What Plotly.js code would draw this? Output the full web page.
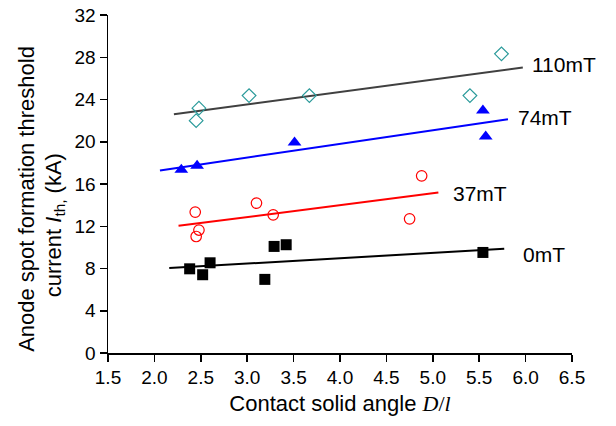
<!DOCTYPE html>
<html>
<head>
<meta charset="utf-8">
<script src="https://cdn.plot.ly/plotly-3.0.1.min.js"></script>
<style>html,body{margin:0;padding:0;background:#fff;}#chart{width:616px;height:426px;}</style>
</head>
<body>
<div id="chart"></div>
<script>
// 0 mT (filled squares)
const x0mT = [2.38, 2.52, 2.60, 3.19, 3.29, 3.42, 5.54];
const y0mT = [7.97, 7.41, 8.54, 6.97, 10.09, 10.25, 9.52];
// 37 mT (open circles)
const x37mT = [2.44, 2.48, 2.45, 3.10, 3.28, 4.75, 4.88];
const y37mT = [13.34, 11.64, 11.03, 14.19, 13.08, 12.70, 16.77];
// 74 mT (filled triangles)
const x74mT = [2.29, 2.46, 3.51, 5.54, 5.57];
const y74mT = [17.34, 17.72, 19.92, 22.95, 20.49];
// 110 mT (open diamonds)
const x110mT = [2.45, 2.48, 3.02, 3.67, 5.40, 5.74];
const y110mT = [22.0, 23.18, 24.37, 24.37, 24.37, 28.32];
// Linear fit lines (start/end)
const fit0X = [2.16, 5.77],  fit0Y = [8.04, 9.87];
const fit37X = [2.26, 5.06], fit37Y = [12.04, 15.19];
const fit74X = [2.06, 5.81], fit74Y = [17.28, 22.14];
const fit110X = [2.21, 5.97], fit110Y = [22.6, 27.02];
const seriesLabels = ["110mT", "74mT", "37mT", "0mT"];
const yTitleLines = ["Anode spot formation threshold", "current <i>I</i><sub>th,</sub> (kA)"];

const font = "Liberation Sans, Arial, sans-serif";
const traces = [
  {x: fit110X, y: fit110Y, mode: "lines", line: {color: "#404040", width: 2}},
  {x: fit74X, y: fit74Y, mode: "lines", line: {color: "#0000ff", width: 2}},
  {x: fit37X, y: fit37Y, mode: "lines", line: {color: "#ff0000", width: 2}},
  {x: fit0X, y: fit0Y, mode: "lines", line: {color: "#000000", width: 2}},
  {x: x110mT, y: y110mT, mode: "markers", marker: {symbol: "diamond-open", size: 10.5, color: "#2a9a9a", line: {width: 1.2}}},
  {x: x74mT, y: y74mT, mode: "markers", marker: {symbol: "triangle-up", size: 12, color: "#0000ff"}},
  {x: x37mT, y: y37mT, mode: "markers", marker: {symbol: "circle-open", size: 10.5, color: "#ff0000", line: {width: 1.2}}},
  {x: x0mT, y: y0mT, mode: "markers", marker: {symbol: "square", size: 11, color: "#000000"}}
];

const labelPos = [[6.05, 27.27], [5.90, 22.29], [5.20, 15.14], [5.95, 9.3]];
const annotations = seriesLabels.map((t, i) => ({
  x: labelPos[i][0], y: labelPos[i][1], xref: "x", yref: "y", text: t,
  showarrow: false, xanchor: "left", yanchor: "middle",
  font: {family: font, size: 21, color: "#000"}
}));
// y-axis title, two rotated lines
const yTitlePos = [[-0.176, 0.457], [-0.114, 0.378]];
yTitleLines.forEach((t, i) => annotations.push({
  x: yTitlePos[i][0], y: yTitlePos[i][1], xref: "paper", yref: "paper", text: t,
  textangle: -90, showarrow: false, xanchor: "center", yanchor: "middle",
  font: {family: font, size: 22, color: "#000"}
}));

const layout = {
  width: 616, height: 426,
  margin: {l: 108, r: 44, t: 15, b: 73, pad: 0},
  paper_bgcolor: "#fff", plot_bgcolor: "#fff",
  showlegend: false,
  font: {family: font, color: "#000"},
  xaxis: {
    range: [1.5, 6.5], dtick: 0.5, tick0: 1.5, tickformat: ".1f",
    showgrid: false, zeroline: false, showline: true, linecolor: "#000", linewidth: 1.5,
    ticks: "outside", ticklen: 7, tickwidth: 1.5, tickcolor: "#000",
    tickfont: {family: font, size: 19, color: "#000"},
    title: {text: 'Contact solid angle <span style="font-family:Liberation Serif, Times New Roman, serif"><i>D</i>/<i>l</i></span>',
            font: {family: font, size: 22, color: "#000"}, standoff: 8}
  },
  yaxis: {
    range: [0, 32], dtick: 4, tick0: 0,
    showgrid: false, zeroline: false, showline: true, linecolor: "#000", linewidth: 1.5,
    ticks: "outside", ticklen: 7, tickwidth: 1.5, tickcolor: "#000",
    tickfont: {family: font, size: 19, color: "#000"}
  },
  annotations: annotations
};

Plotly.newPlot("chart", traces, layout, {displayModeBar: false, staticPlot: true});
</script>
</body>
</html>
